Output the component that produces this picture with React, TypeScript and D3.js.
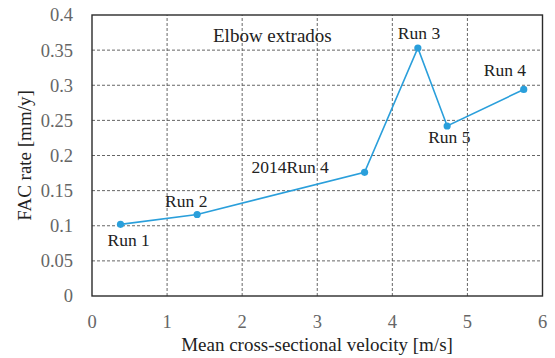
import React from "react";
import * as d3 from "d3";

// Mean cross-sectional velocity [m/s] and FAC rate [mm/y] per run
const velocities = [0.38, 1.4, 3.63, 4.34, 4.73, 5.75];
const facRates = [0.102, 0.116, 0.176, 0.353, 0.242, 0.294];
const runLabels = ["Run 1", "Run 2", "2014Run 4", "Run 3", "Run 5", "Run 4"];
// label offsets from each point, in px
const labelDx = [-13, -32, -113, -20, -19, -40];
const labelDy = [22, -8, 1, -9, 17, -13];

const xTicks = [0, 1, 2, 3, 4, 5, 6];
const yTicks = [0, 0.05, 0.1, 0.15, 0.2, 0.25, 0.3, 0.35, 0.4];

const W = 555;
const H = 358;
const margin = { left: 92, right: 12.5, top: 15, bottom: 62 };
const FONT = "'Liberation Serif', 'Times New Roman', serif";

export default function App() {
  const x = d3.scaleLinear().domain([0, 6]).range([margin.left, W - margin.right]);
  const y = d3.scaleLinear().domain([0, 0.4]).range([H - margin.bottom, margin.top]);
  const pts = velocities.map((v, i) => [x(v), y(facRates[i])] as [number, number]);
  const line = d3.line();
  const x0 = x(0), x1 = x(6), y0 = y(0), y1 = y(0.4);

  return (
    <svg
      width={W}
      height={H}
      style={{ position: "absolute", left: 0, top: 0, background: "#fff" }}
      fontFamily={FONT}
    >
      {/* dashed grid */}
      <g stroke="#555" strokeWidth={0.9} strokeDasharray="3,2">
        {xTicks.slice(1, -1).map((t) => (
          <line key={"gx" + t} x1={x(t)} x2={x(t)} y1={y0} y2={y1} />
        ))}
        {yTicks.slice(1, -1).map((t) => (
          <line key={"gy" + t} x1={x0} x2={x1} y1={y(t)} y2={y(t)} />
        ))}
      </g>
      {/* plot frame */}
      <rect x={x0} y={y1} width={x1 - x0} height={y0 - y1} fill="none" stroke="#2b2b2b" strokeWidth={1.4} />

      {/* tick labels */}
      <g fill="#666" fontSize={18.5}>
        {yTicks.map((t) => (
          <text key={"ty" + t} x={73} y={y(t)} dy="0.35em" textAnchor="end">
            {d3.format("")(t)}
          </text>
        ))}
        {xTicks.map((t) => (
          <text key={"tx" + t} x={x(t)} y={328} textAnchor="middle">
            {t}
          </text>
        ))}
      </g>

      {/* axis titles */}
      <text x={317} y={351} textAnchor="middle" fontSize={19} fill="#222">
        Mean cross-sectional velocity [m/s]
      </text>
      <text
        transform={`translate(31,${(y0 + y1) / 2}) rotate(-90)`}
        textAnchor="middle"
        fontSize={19}
        fill="#222"
      >
        FAC rate [mm/y]
      </text>

      {/* series */}
      <path d={line(pts) ?? ""} fill="none" stroke="#2a9fdb" strokeWidth={1.6} />
      {pts.map(([px, py], i) => (
        <circle key={"p" + i} cx={px} cy={py} r={3.6} fill="#2a9fdb" />
      ))}

      {/* point labels */}
      <g fontSize={17.5} fill="#222">
        {pts.map(([px, py], i) => (
          <text key={"l" + i} x={px + labelDx[i]} y={py + labelDy[i]}>
            {runLabels[i]}
          </text>
        ))}
      </g>
      <text x={213} y={42} fontSize={19} fill="#222">
        Elbow extrados
      </text>
    </svg>
  );
}
